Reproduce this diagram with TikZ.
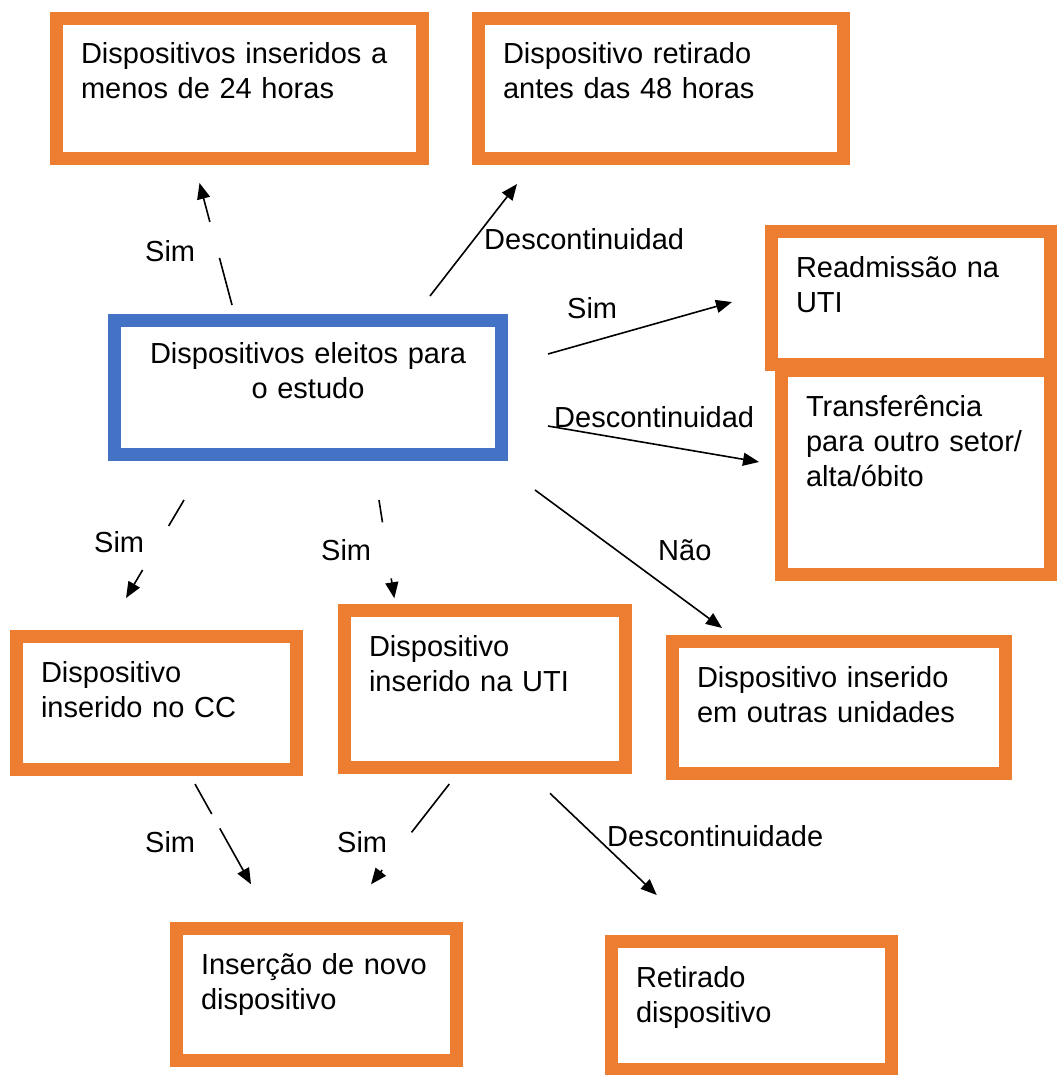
\documentclass[tikz,border=0pt]{standalone}
\usepackage{fontspec}
\setmainfont{Liberation Sans}
\usetikzlibrary{arrows.meta}
\definecolor{boxorange}{HTML}{ED7D31}
\definecolor{boxblue}{HTML}{4472C4}
\begin{document}
\begin{tikzpicture}[x=1pt,y=-1pt]
    \tikzstyle{obox} = [rectangle,draw=boxorange,line width=13pt,fill=white,anchor=north west,align=left,inner xsep=24.5pt,inner ysep=24.5pt,text height=21pt,font=\fontsize{29pt}{35pt}\selectfont]
    \tikzstyle{bbox} = [obox,draw=boxblue,align=center,inner ysep=21.5pt]
    \tikzstyle{arr} = [-{Triangle[length=16pt,width=13pt]},line width=1.6pt]
    \tikzstyle{lab} = [inner sep=0pt,anchor=base west,font=\fontsize{29pt}{35pt}\selectfont]
    \useasboundingbox (0,0) rectangle (1057,1075);
    % caixas
    \node (b24)[obox,text width=317pt,text depth=70pt] at (50,12) {Dispositivos inseridos a\\menos de 24 horas};
    \node (b48)[obox,text width=316pt,text depth=70pt] at (472,12) {Dispositivo retirado\\antes das 48 horas};
    \node (transf)[obox,text width=220pt,text depth=134pt] at (775,364) {Transferência\\para outro setor/\\alta/óbito};
    \node (readm)[obox,text width=230pt,text depth=63pt] at (765,225) {Readmissão na\\UTI};
    \node (central)[bbox,text width=338pt,text depth=70pt] at (108,314) {Dispositivos eleitos para\\o estudo};
    \node (cc)[obox,text width=231pt,text depth=63pt] at (10,630) {Dispositivo\\inserido no CC};
    \node (uti)[obox,text width=232pt,text depth=87pt] at (338,604) {Dispositivo\\inserido na UTI};
    \node (outras)[obox,text width=284pt,text depth=62pt] at (666,635) {Dispositivo inserido\\em outras unidades};
    \node (ins)[obox,text width=231pt,text depth=62pt] at (170,922) {Inserção de novo\\dispositivo};
    \node (ret)[obox,text width=231pt,text depth=58pt] at (605,935) {Retirado\\dispositivo};
    % setas
    \draw [arr,shorten <=9.3pt,shorten >=18.6pt,dash pattern=on 48.7pt off 37.3pt on 400pt] ([xshift=126.4pt]central.north west) -- ([xshift=144.7pt]b24.south west);
    \draw [arr,shorten <=22.8pt,shorten >=24.1pt] ([xshift=308pt]central.north west) -- ([xshift=59.8pt]b48.south west);
    \draw [arr,shorten <=41.6pt,shorten >=34.3pt] ([yshift=-51.3pt]central.north east) -- ([yshift=-67.7pt]readm.north west);
    \draw [arr,shorten <=40.6pt,shorten >=16.2pt] ([yshift=-105.2pt]central.north east) -- ([yshift=-100.7pt]transf.north west);
    \draw [arr,shorten <=45.3pt,shorten >=37.2pt,dash pattern=on 30.2pt off 51.1pt on 400pt] ([xshift=99.1pt]central.south west) -- ([xshift=97.1pt]cc.north west);
    \draw [arr,shorten <=39.5pt,shorten >=5.8pt,dash pattern=on 22.6pt off 56.7pt on 400pt] ([xshift=264.9pt]central.south west) -- ([xshift=57.2pt]uti.north west);
    \draw [arr,shorten <=48.8pt,shorten >=11.8pt] ([xshift=387.7pt]central.south west) -- ([xshift=65.5pt]outras.north west);
    \draw [arr,shorten <=9.2pt,shorten >=43.2pt,dash pattern=on 34.4pt off 16.4pt on 400pt] ([xshift=180.5pt]cc.south west) -- ([xshift=102.1pt]ins.north west);
    \draw [arr,shorten <=12.7pt,shorten >=47.8pt,dash pattern=on 61.3pt off 47.8pt on 400pt] ([xshift=119.1pt]uti.south west) -- ([xshift=171.6pt]ins.north west);
    \draw [arr,shorten <=28pt,shorten >=58pt] ([xshift=191.7pt]uti.south west) -- ([xshift=93.7pt]ret.north west);
    % rotulos
    \node (sim1)[lab] at (145,261) {Sim};
    \node (desc1)[lab] at (484,250) {Descontinuidad};
    \node (sim2)[lab] at (567,318) {Sim};
    \node (desc2)[lab] at (554,427) {Descontinuidad};
    \node (sim3)[lab] at (94,552) {Sim};
    \node (sim4)[lab] at (321,560) {Sim};
    \node (nao)[lab] at (658,560) {Não};
    \node (sim5)[lab] at (145,852) {Sim};
    \node (sim6)[lab] at (337,852) {Sim};
    \node (desc3)[lab] at (607,846) {Descontinuidade};
\end{tikzpicture}
\end{document}
